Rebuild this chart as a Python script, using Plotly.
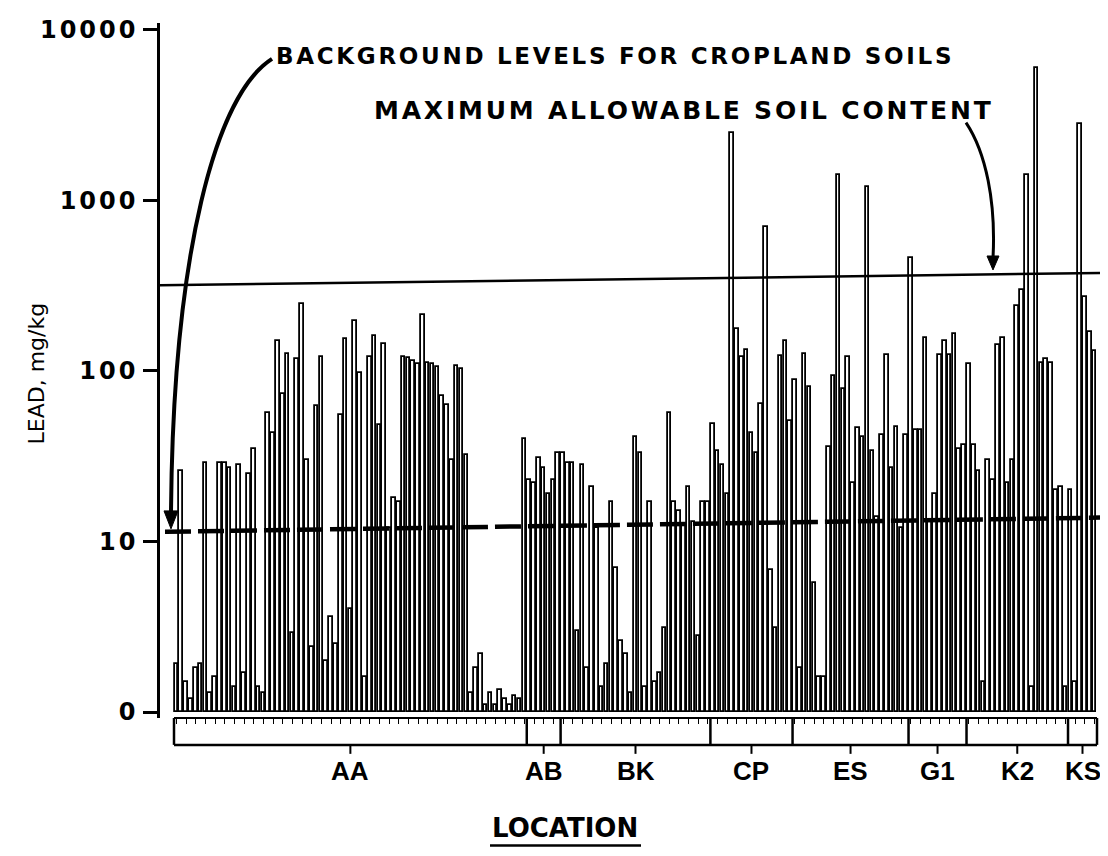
import plotly.graph_objects as go

# ---------------- data ----------------
group_names = ["AA", "AB", "BK", "CP", "ES", "G1", "K2", "KS"]

lead_AA = [1.9, 26, 1.5, 1.2, 1.8, 1.9, 29, 1.3, 1.6, 29, 29, 27, 1.4, 28, 1.7, 25, 35, 1.4, 1.3,
           57, 43, 150, 73, 125, 2.9, 118, 247, 30, 2.4, 62, 121, 2.0, 3.6, 2.5, 55, 153, 4.0, 195, 97, 1.6,
           121, 161, 48, 144, 12, 18, 17, 121, 119, 114, 110, 212, 111, 110, 105, 71, 63, 30, 107, 102, 32,
           1.3, 1.8, 2.2, 1.1, 1.3, 1.1, 1.35, 1.2, 1.1, 1.25, 1.2, 40]
lead_AB = [23, 22, 31, 27, 19, 23, 33]
lead_BK = [33, 29, 29, 3.0, 28, 1.8, 21, 12, 1.4, 1.9, 17, 7, 2.6, 2.2, 1.3, 41, 33, 1.4, 17, 1.5,
           1.7, 3.1, 57, 17, 15, 12.5, 21, 13, 2.8, 17, 17]
lead_CP = [49, 34, 28, 19, 2500, 176, 121, 133, 43, 33, 64, 700, 6.8, 3.1, 122, 150, 51]
lead_ES = [88, 1.8, 126, 80, 5.7, 1.6, 1.6, 36, 93, 1400, 78, 120, 22, 46, 41, 1200, 34, 14, 42, 124,
           27, 47, 12, 42]
lead_G1 = [460, 45, 45, 155, 13, 19, 124, 150, 124, 164, 35, 37]
lead_K2 = [110, 37, 26, 1.5, 30, 23, 141, 155, 22, 30, 240, 300, 1400, 1.4, 6000, 112, 117, 112, 20, 21, 1.4]
lead_KS = [20, 1.5, 2800, 270, 170, 130]

max_allowable = [318, 375]      # line, left end / right end (scan is slightly tilted)
background_level = [11.4, 13.8]  # dashed line, left end / right end

y_tick_vals = [1, 10, 100, 1000, 10000]
y_tick_text = ["0", "10", "100", "1000", "10000"]

# ---------------- build ----------------
groups = [lead_AA, lead_AB, lead_BK, lead_CP, lead_ES, lead_G1, lead_K2, lead_KS]
values = [v for g in groups for v in g]
N = len(values)
xs = list(range(N))
bounds = [-0.5]
for g in groups:
    bounds.append(bounds[-1] + len(g))

BAR_BASE = 1  # the axis label "0" sits at 1 mg/kg
OFF = 8  # page body margin
W, H = 1108 - OFF, 856 - OFF
# plot-area edges, in reference-image pixels
L_PX, R_PX, T_PX, B_PX = 160, 1100, 20, 718
p = (1097 - 174) / N  # px per bar
x_lo = -0.5 - (174 - L_PX) / p
x_hi = (N - 0.5) + (R_PX - 1097) / p


def px(x):
    return (x - L_PX) / (R_PX - L_PX)


def py(y):
    return (B_PX - y) / (B_PX - T_PX)


def P(x, y):
    return f"{px(x):.5f},{py(y):.5f}"


FONT_B = "DejaVu Sans"


def spaced(text, ls):
    return f"<span style='letter-spacing:{ls}px'><b>{text}</b></span>"


fig = go.Figure()
# plotly draws a based bar from base to base+y, so pass the length above the base
fig.add_trace(go.Bar(
    x=xs, y=[v - BAR_BASE for v in values], base=BAR_BASE, width=0.74,
    customdata=values, hovertemplate="%{customdata} mg/kg<extra></extra>",
    marker=dict(color="white", line=dict(color="black", width=1.8)),
    showlegend=False))

fig.add_trace(go.Scatter(
    x=[x_lo, x_hi], y=max_allowable, mode="lines",
    line=dict(color="black", width=2.5), showlegend=False))
fig.add_trace(go.Scatter(
    x=[-0.5 - 9 / p, x_hi], y=background_level, mode="lines",
    line=dict(color="black", width=4.5, dash="26px,7px"), showlegend=False))

shapes = []
yb = -27 / (B_PX - T_PX)
shapes.append(dict(type="line", xref="x", yref="paper", x0=bounds[0], x1=bounds[-1], y0=0, y1=0,
                   line=dict(color="black", width=2)))
shapes.append(dict(type="line", xref="x", yref="paper", x0=bounds[0], x1=bounds[-1], y0=yb, y1=yb,
                   line=dict(color="black", width=2.5)))
for b in bounds:
    shapes.append(dict(type="line", xref="x", yref="paper", x0=b, x1=b, y0=0, y1=yb,
                       line=dict(color="black", width=2.5)))
annotations = []
for i, name in enumerate(group_names):
    c = (bounds[i] + bounds[i + 1]) / 2
    shapes.append(dict(type="line", xref="x", yref="paper", x0=c, x1=c, y0=yb, y1=-36 / (B_PX - T_PX),
                       line=dict(color="black", width=2)))
    annotations.append(dict(x=c, y=py(771), xref="x", yref="paper", text=f"<b>{name}</b>",
                            showarrow=False, xanchor="center", yanchor="middle",
                            font=dict(family="Liberation Sans", size=26, color="black")))

# curved arrows
shapes.append(dict(type="path", xref="paper", yref="paper",
                   path=f"M{P(272,56)} C{P(216,92)} {P(173,250)} {P(171,512)}",
                   line=dict(color="black", width=4)))
shapes.append(dict(type="path", xref="paper", yref="paper",
                   path=f"M{P(164,510)} L{P(178,510)} L{P(171,528)} Z",
                   fillcolor="black", line=dict(color="black", width=1)))
shapes.append(dict(type="path", xref="paper", yref="paper",
                   path=f"M{P(966,120)} C{P(986,150)} {P(996,200)} {P(993,256)}",
                   line=dict(color="black", width=3)))
shapes.append(dict(type="path", xref="paper", yref="paper",
                   path=f"M{P(987,254)} L{P(999,254)} L{P(993,268)} Z",
                   fillcolor="black", line=dict(color="black", width=1)))
# underline of LOCATION
shapes.append(dict(type="line", xref="paper", yref="paper", x0=px(490), x1=px(641), y0=py(846), y1=py(846),
                   line=dict(color="black", width=2.5)))

annotations += [
    dict(x=px(274), y=py(53), xref="paper", yref="paper", text=spaced("BACKGROUND LEVELS FOR CROPLAND SOILS", 2.7),
         showarrow=False, xanchor="left", yanchor="middle", font=dict(family=FONT_B, size=23, color="black")),
    dict(x=px(372), y=py(108), xref="paper", yref="paper", text=spaced("MAXIMUM ALLOWABLE SOIL CONTENT", 2.8),
         showarrow=False, xanchor="left", yanchor="middle", font=dict(family=FONT_B, size=25, color="black")),
    dict(x=px(565), y=py(828), xref="paper", yref="paper", text="<b>LOCATION</b>",
         showarrow=False, xanchor="center", yanchor="middle", font=dict(family=FONT_B, size=26, color="black")),
    dict(x=px(36), y=py(372), xref="paper", yref="paper", text="LEAD, mg/kg", textangle=-90,
         showarrow=False, xanchor="center", yanchor="middle", font=dict(family=FONT_B, size=22, color="black")),
]

fig.update_layout(
    width=W, height=H,
    margin=dict(l=L_PX - OFF, r=1108 - R_PX, t=T_PX - OFF, b=856 - B_PX, pad=0),
    paper_bgcolor="white", plot_bgcolor="white",
    bargap=0, shapes=shapes, annotations=annotations,
    xaxis=dict(range=[x_lo, x_hi], showgrid=False, zeroline=False, showline=False,
               tickmode="array", tickvals=list(range(0, N, 2)), ticks="outside", ticklen=5,
               tickwidth=1, tickcolor="black", showticklabels=False),
    yaxis=dict(type="log", range=[-0.035, 4.04], showgrid=False, zeroline=False,
               showline=True, linewidth=2.5, linecolor="black",
               tickmode="array", tickvals=y_tick_vals, ticktext=[spaced(t, 3) for t in y_tick_text],
               ticks="outside", ticklen=14, tickwidth=2.5, tickcolor="black",
               tickfont=dict(family=FONT_B, size=24, color="black")),
)

fig.write_html("out.html")
